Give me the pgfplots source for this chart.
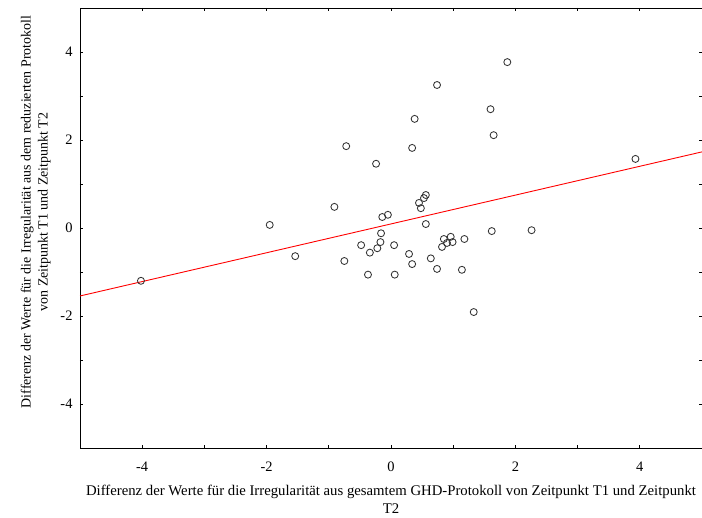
\documentclass[border=0pt]{standalone}
\usepackage{fontspec}
\setmainfont{Liberation Serif}
\usepackage{pgfplots}
\pgfplotsset{compat=1.18}

\pgfplotstableread{
x y
-4.02 -1.20
-1.95 0.07
-1.54 -0.64
-0.91 0.48
-0.72 1.86
-0.75 -0.75
-0.24 1.46
-0.48 -0.39
-0.34 -0.56
-0.37 -1.06
-0.22 -0.46
-0.17 -0.32
-0.16 -0.12
-0.14 0.25
-0.05 0.30
0.05 -0.39
0.06 -1.06
0.29 -0.59
0.34 -0.82
0.34 1.82
0.38 2.48
0.74 3.25
0.45 0.57
0.48 0.45
0.53 0.68
0.56 0.75
0.56 0.09
0.64 -0.69
0.74 -0.93
0.82 -0.43
0.85 -0.25
0.90 -0.34
0.96 -0.20
0.99 -0.32
1.18 -0.25
1.14 -0.95
1.33 -1.91
1.60 2.70
1.65 2.11
1.62 -0.07
1.87 3.77
2.26 -0.05
3.93 1.57
}\pts

\begin{document}
\begin{tikzpicture}
\begin{axis}[
  scale only axis,
  width=622bp, height=440bp,
  xmin=-5, xmax=5, ymin=-5, ymax=5,
  xtick={-4,-2,0,2,4}, ytick={-4,-2,0,2,4},
  xticklabels={-4,-2,0,2,4}, yticklabels={-4,-2,0,2,4},
  minor tick num=1,
  tick align=inside,
  major tick length=3.5bp, minor tick length=3.5bp,
  tick style={black, line width=0.7bp},
  axis line style={black, line width=0.8bp},
  tick label style={font=\fontsize{14.5}{16}\selectfont},
  xticklabel style={yshift=-10bp},
  yticklabel style={xshift=-4bp},
  xlabel={Differenz der Werte für die Irregularität aus gesamtem GHD-Protokoll von Zeitpunkt T1 und Zeitpunkt\\T2},
  ylabel={Differenz der Werte für die Irregularität aus dem reduzierten Protokoll\\von Zeitpunkt T1 und Zeitpunkt T2},
  xlabel style={font=\fontsize{14.8}{18}\selectfont, align=center, yshift=-7bp},
  ylabel style={font=\fontsize{14}{17}\selectfont, align=center, yshift=3bp, xshift=16bp},
  clip=false,
]
\addplot[red, line width=0.9bp] coordinates {(-5,-1.545) (5,1.73)};
\addplot[only marks, mark=o, mark size=3.5bp,
  mark options={draw=black!80, line width=0.85bp, fill=none}] table[x=x,y=y] {\pts};
\end{axis}
\pgfresetboundingbox
\path (-80bp,-70bp) rectangle (622bp,448bp);
\end{tikzpicture}
\end{document}
